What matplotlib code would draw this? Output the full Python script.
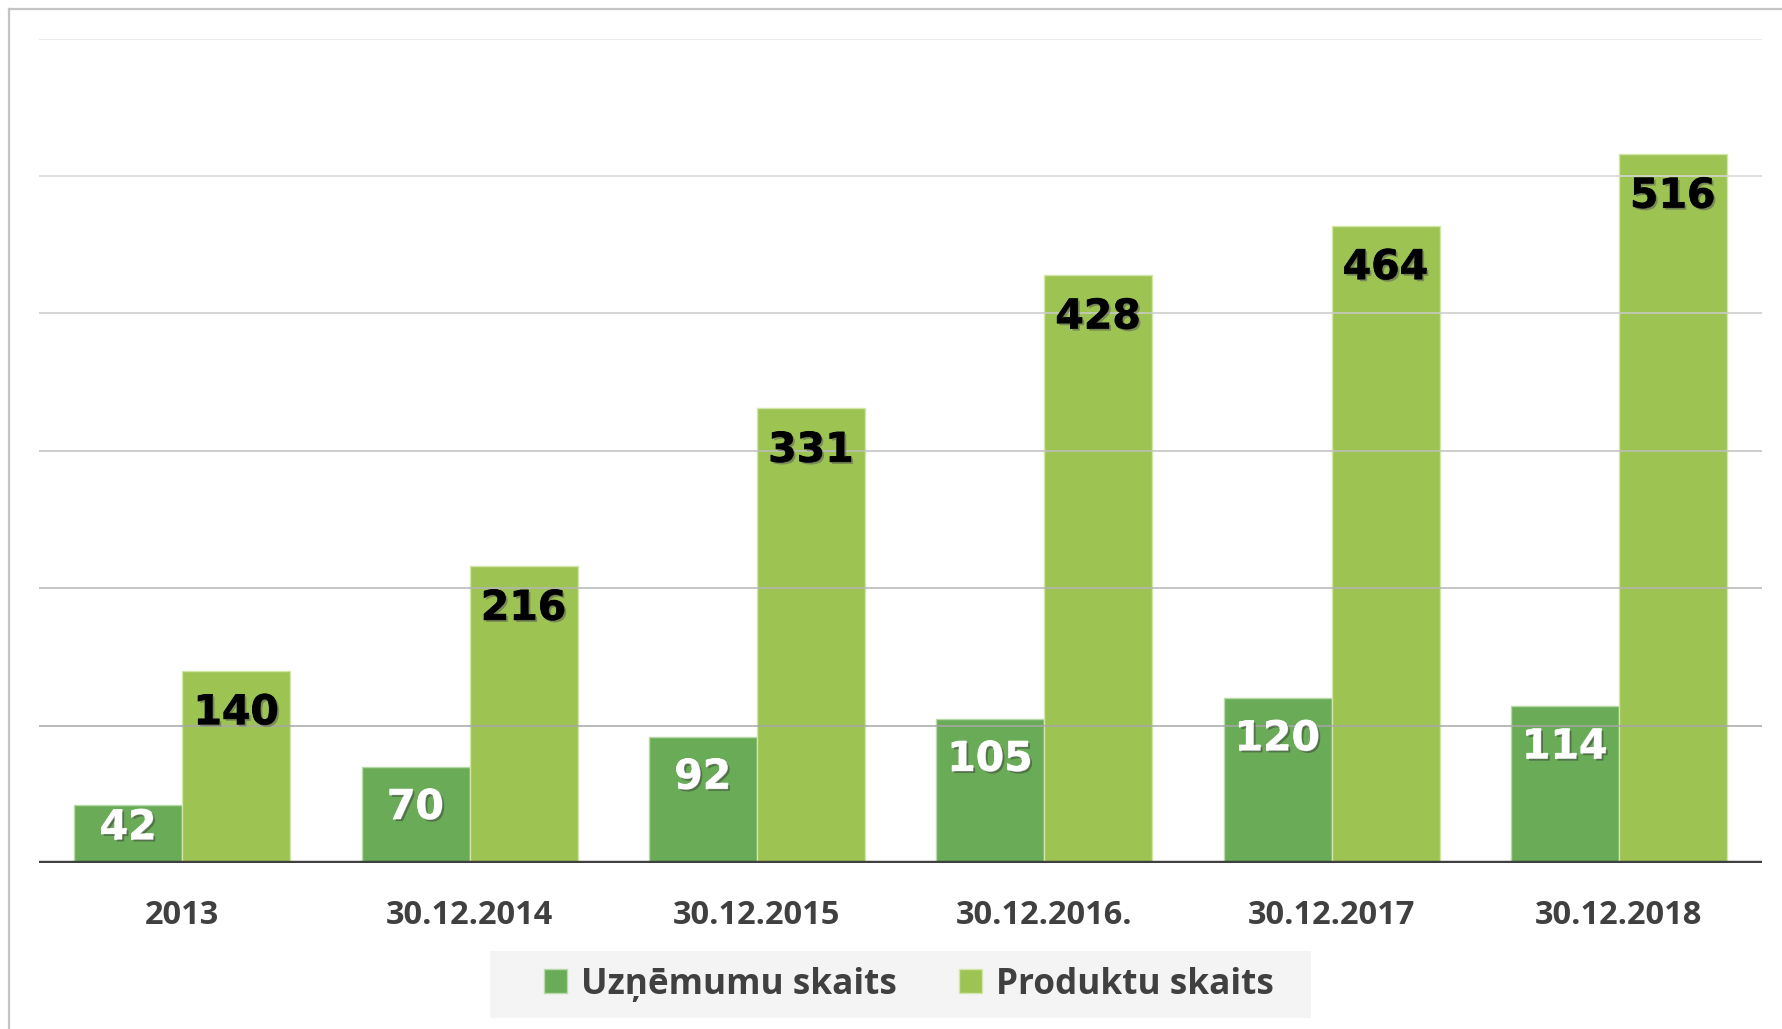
import matplotlib
matplotlib.use("Agg")
import matplotlib.pyplot as plt
import matplotlib.patheffects as pe
from matplotlib.patches import Patch, Rectangle
from matplotlib.lines import Line2D
import numpy as np

categories = ["2013", "30.12.2014", "30.12.2015", "30.12.2016.", "30.12.2017", "30.12.2018"]
uznemumu = [42, 70, 92, 105, 120, 114]
produktu = [140, 216, 331, 428, 464, 516]
series_names = ["Uzņēmumu skaits", "Produktu skaits"]

c1 = "#6aab58"
c2 = "#9dc353"
txt_col = "#404040"

W, H = 1783, 1029
fig = plt.figure(figsize=(W / 100, H / 100), dpi=100)
fig.patch.set_facecolor("white")

ax = fig.add_axes([38.7 / W, 1 - 863 / H, (1762.5 - 38.7) / W, (863 - 38.7) / H])
x = np.arange(len(categories))
bw = 0.376

ax.set_xlim(-0.5, len(categories) - 0.5)
ax.set_ylim(0, 600)

# gridlines (drawn over bars, lightly)
grid_cols = {100: "#a8a8a8", 200: "#b5b5b5", 300: "#c0c0c0", 400: "#cbcbcb", 500: "#d8d8d8", 600: "#e6e6e6"}
for yv, col in grid_cols.items():
    ax.axhline(yv, color=col, lw=1.3, zorder=3, alpha=0.85)

b1 = ax.bar(x - bw / 2, uznemumu, width=bw, color=c1, edgecolor="#b8d9a8", linewidth=1.0, zorder=2)
b2 = ax.bar(x + bw / 2, produktu, width=bw, color=c2, edgecolor="#d3e6a9", linewidth=1.0, zorder=2)

ax.axhline(0, color="#404040", lw=3.2, zorder=5)

for xi, v in zip(x, uznemumu):
    yl = v - 30 if v > 60 else v * 0.6
    ax.text(xi - bw / 2, yl, str(v), ha="center", va="center", color="white",
            fontsize=29.5, fontweight="bold", family="DejaVu Sans", zorder=6,
            path_effects=[pe.Stroke(linewidth=0.6, foreground="white"),
                          pe.SimplePatchShadow(offset=(1.5, -1.5), shadow_rgbFace="#333333", alpha=0.45),
                          pe.Normal()])
for xi, v in zip(x, produktu):
    ax.text(xi + bw / 2, v - 31, str(v), ha="center", va="center", color="black",
            fontsize=29.5, fontweight="bold", family="DejaVu Sans", zorder=6,
            path_effects=[pe.Stroke(linewidth=0.6, foreground="black"),
                          pe.SimplePatchShadow(offset=(1.5, -1.5), shadow_rgbFace="#555555", alpha=0.5),
                          pe.Normal()])

ax.set_xticks(x)
ax.set_xticklabels(categories, fontsize=23.5, fontweight="bold", family="Open Sans", color=txt_col)
ax.tick_params(axis="x", length=0, pad=26)
ax.set_yticks([])
for s in ax.spines.values():
    s.set_visible(False)

# figure border (left and top)
fig.add_artist(Line2D([9 / W, 9 / W], [0, 1 - 9 / H], transform=fig.transFigure, color="#c4c4c4", lw=1.6))
fig.add_artist(Line2D([9 / W, 1], [1 - 9 / H, 1 - 9 / H], transform=fig.transFigure, color="#c4c4c4", lw=1.6))

# legend background
fig.add_artist(Rectangle((490 / W, 1 - 1018 / H), (1311 - 490) / W, (1018 - 951) / H,
                         transform=fig.transFigure, facecolor="#f4f4f4", edgecolor="none", zorder=0))
handles = [Patch(facecolor=c1, edgecolor="#b8d9a8"), Patch(facecolor=c2, edgecolor="#d3e6a9")]
leg = fig.legend(handles, series_names, loc="center", bbox_to_anchor=(909 / W, 1 - 984.5 / H), ncol=2,
                 frameon=False, handlelength=0.66, handleheight=0.66, handletextpad=0.4, columnspacing=1.75,
                 prop={"family": "Open Sans", "weight": "bold", "size": 25.3})
for t in leg.get_texts():
    t.set_color(txt_col)

fig.savefig("out.png", dpi=100, facecolor="white")
